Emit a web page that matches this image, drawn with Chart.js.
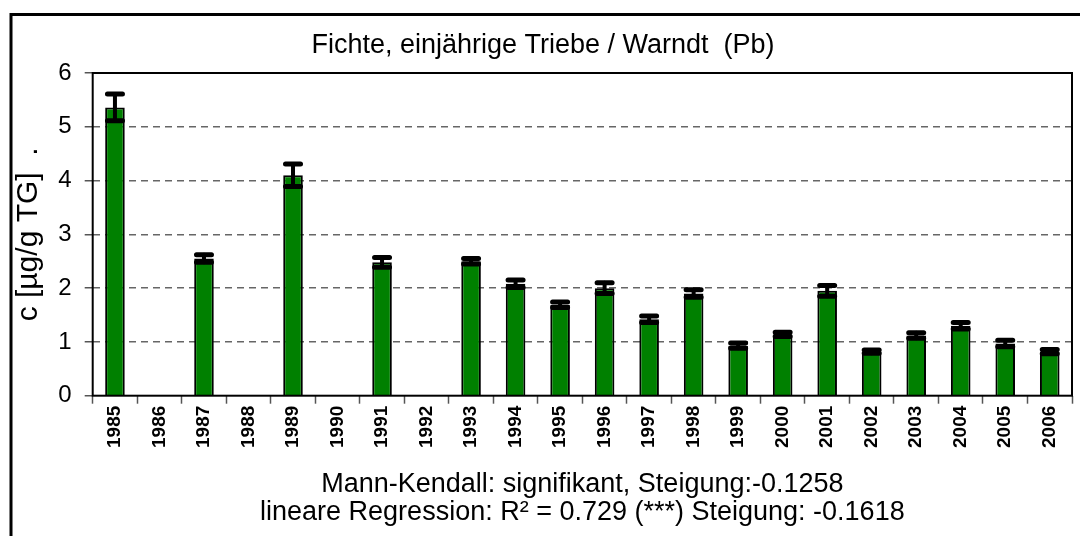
<!DOCTYPE html>
<html>
<head>
<meta charset="utf-8">
<script src="https://cdn.jsdelivr.net/npm/chart.js@4.4.1/dist/chart.umd.min.js"></script>
<style>
html,body{margin:0;padding:0;background:#fff;}
#wrap{width:1080px;height:536px;position:relative;}
</style>
</head>
<body>
<div id="wrap"><canvas id="c" width="1080" height="536"></canvas></div>
<script>
const years = ['1985','1986','1987','1988','1989','1990','1991','1992','1993','1994','1995','1996','1997','1998','1999','2000','2001','2002','2003','2004','2005','2006'];
const values = [5.36, null, 2.55, null, 4.10, null, 2.48, null, 2.50, 2.08, 1.69, 2.00, 1.42, 1.90, 0.93, 1.14, 1.95, 0.82, 1.12, 1.30, 0.97, 0.82];
const errors = [0.25, null, 0.07, null, 0.21, null, 0.09, null, 0.05, 0.07, 0.05, 0.10, 0.06, 0.07, 0.05, 0.04, 0.10, 0.03, 0.05, 0.06, 0.06, 0.04];
const yTicks = [0, 1, 2, 3, 4, 5, 6];
const titleText = 'Fichte, einjährige Triebe / Warndt  (Pb)';
const yTitle = 'c [µg/g TG]  .';
const xTitle = ['Mann-Kendall: signifikant, Steigung:-0.1258', 'lineare Regression: R² = 0.729 (***) Steigung: -0.1618'];

const FONT = "'Liberation Sans', Arial, sans-serif";

const framePlugin = {
  id: 'frame',
  beforeDraw(chart) {
    const ctx = chart.ctx;
    ctx.save();
    ctx.fillStyle = '#fff';
    ctx.fillRect(0, 0, chart.width, chart.height);
    ctx.strokeStyle = '#000';
    ctx.lineWidth = 3;
    ctx.beginPath();
    ctx.moveTo(11, 540);
    ctx.lineTo(11, 14.5);
    ctx.lineTo(1085, 14.5);
    ctx.stroke();
    ctx.restore();
  },
  afterDraw(chart) {
    const a = chart.chartArea;
    const ctx = chart.ctx;
    ctx.save();
    ctx.strokeStyle = '#000';
    ctx.lineWidth = 2;
    ctx.strokeRect(a.left, a.top, a.right - a.left, a.bottom - a.top);
    ctx.restore();
  }
};

const errorPlugin = {
  id: 'errbars',
  afterDatasetsDraw(chart) {
    const ctx = chart.ctx;
    const meta = chart.getDatasetMeta(0);
    const ys = chart.scales.y;
    ctx.save();
    ctx.strokeStyle = '#000';
    ctx.lineCap = 'round';
    meta.data.forEach((bar, i) => {
      const v = values[i], e = errors[i];
      if (v === null || e === null) return;
      const x = bar.x;
      const yHi = ys.getPixelForValue(v + e);
      const yLo = ys.getPixelForValue(v - e);
      const hw = 7.5;
      ctx.lineWidth = 4;
      ctx.beginPath();
      ctx.moveTo(x, yLo); ctx.lineTo(x, yHi);
      ctx.stroke();
      ctx.lineWidth = 5;
      ctx.beginPath();
      ctx.moveTo(x - hw, yHi); ctx.lineTo(x + hw, yHi);
      ctx.moveTo(x - hw, yLo); ctx.lineTo(x + hw, yLo);
      ctx.stroke();
    });
    ctx.restore();
  }
};

new Chart(document.getElementById('c'), {
  type: 'bar',
  data: {
    labels: years,
    datasets: [{
      data: values,
      backgroundColor: '#008000',
      borderColor: '#000',
      borderWidth: 2,
      barPercentage: 0.44,
      categoryPercentage: 1.0
    }]
  },
  options: {
    responsive: false,
    animation: false,
    devicePixelRatio: 1,
    layout: { padding: { left: 14, right: 8, top: 0, bottom: 0 } },
    plugins: {
      legend: { display: false },
      tooltip: { enabled: false },
      title: {
        display: true,
        text: titleText,
        color: '#000',
        font: { family: FONT, size: 27, weight: 'normal', lineHeight: 1.0 },
        padding: { top: 32.5, bottom: 13.5 }
      }
    },
    scales: {
      x: {
        offset: true,
        grid: { display: true, offset: true, drawOnChartArea: false, drawTicks: true, tickLength: 8, tickColor: '#555', tickWidth: 1.5 },
        border: { display: false },
        ticks: {
          autoSkip: false, minRotation: 90, maxRotation: 90, padding: 2,
          color: '#000',
          font: { family: FONT, size: 19, weight: 'bold' }
        },
        title: {
          display: true,
          text: xTitle,
          color: '#000',
          font: { family: FONT, size: 27, weight: 'normal', lineHeight: 1.037 },
          padding: { top: 0, bottom: 9 }
        },
        afterFit(scale) { scale.height = 140.3; }
      },
      y: {
        min: 0, max: 6,
        afterBuildTicks(scale) { scale.ticks = yTicks.map(v => ({ value: v })); },
        grid: {
          color: (c) => (c.tick && (c.tick.value === 0 || c.tick.value === 6)) ? 'rgba(0,0,0,0)' : '#666',
          lineWidth: 1.5,
          drawTicks: true,
          tickLength: 8,
          tickColor: '#555',
          tickWidth: 1.5,
          tickBorderDash: []
        },
        border: { display: false, dash: [7, 5] },
        ticks: {
          padding: 13,
          color: '#000',
          font: { family: FONT, size: 24 }
        },
        title: {
          display: true,
          text: yTitle,
          color: '#000',
          font: { family: FONT, size: 30, weight: 'normal', lineHeight: 1.0 },
          padding: { top: 0, bottom: 0 }
        },
        afterFit(scale) { scale.width = 78.7; }
      }
    }
  },
  plugins: [framePlugin, errorPlugin]
});
</script>
</body>
</html>
